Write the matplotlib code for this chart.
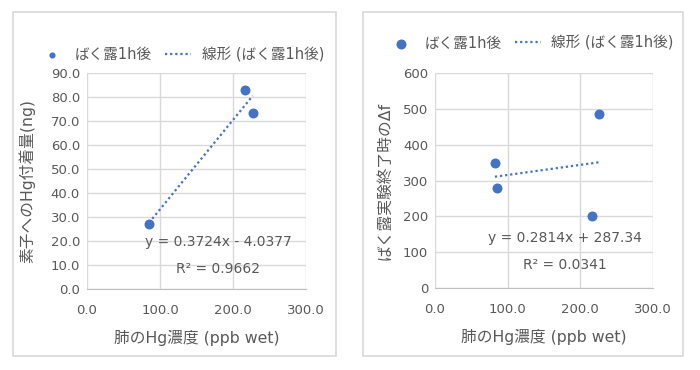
import numpy as np
import matplotlib
matplotlib.use('Agg')
import matplotlib.pyplot as plt
from matplotlib.patches import Rectangle
from matplotlib.ticker import FormatStrFormatter

plt.rcParams['font.family'] = ['DejaVu Sans', 'Noto Sans CJK JP']

# left chart: Hg adhesion on element vs lung Hg concentration
left_x = [85.0, 216.0, 227.0]
left_y = [27.0, 83.0, 73.5]
left_fit = (0.3724, -4.0377)
left_r2 = 0.9662

# right chart: delta f at end of exposure vs lung Hg concentration
right_x = [82.5, 85.0, 216.0, 226.0]
right_y = [349.0, 280.0, 201.0, 486.0]
right_fit = (0.2814, 287.34)
right_r2 = 0.0341

series_name = 'ばく露1h後'
trend_name = '線形 (ばく露1h後)'
xlabel = '肺のHg濃度 (ppb wet)'
left_ylabel = '素子へのHg付着量(ng)'
right_ylabel = 'ばく露実験終了時のΔf'

blue = '#4472C4'
grey_txt = '#595959'
grid_col = '#d9d9d9'

W, H = 700, 370
fig = plt.figure(figsize=(W / 100, H / 100), dpi=100)


def px(l, t, r, b):
    return [l / W, 1 - b / H, (r - l) / W, (b - t) / H]


# chart frames
for l, r in [(13, 336), (363, 683)]:
    fig.patches.append(Rectangle((l / W, 1 - 356 / H), (r - l) / W, (356 - 12) / H,
                                 transform=fig.transFigure, fill=False,
                                 edgecolor=grid_col, linewidth=1.2))


def draw(ax, xs, ys, fit, r2, ymax, ystep, yfmt, ylabel, eq, eq_pos, legend_pos, msize):
    ax.scatter(xs, ys, s=38, color=blue, zorder=3, label=series_name)
    xx = np.array([min(xs), max(xs)])
    ax.plot(xx, fit[0] * xx + fit[1], linestyle=(0, (1, 1.3)), color=blue,
            linewidth=1.6, zorder=2, label=trend_name)
    ax.set_xlim(0, 300)
    ax.set_ylim(0, ymax)
    ax.set_xticks(np.arange(0, 301, 100))
    ax.set_yticks(np.arange(0, ymax + 1, ystep))
    ax.xaxis.set_major_formatter(FormatStrFormatter('%.1f'))
    ax.yaxis.set_major_formatter(FormatStrFormatter(yfmt))
    ax.grid(True, color=grid_col, linewidth=1)
    ax.set_axisbelow(True)
    for s in ['top', 'right', 'left']:
        ax.spines[s].set_visible(False)
    ax.spines['bottom'].set_color('#bfbfbf')
    ax.tick_params(length=0, labelsize=9.5, labelcolor=grey_txt, pad=5)
    ax.tick_params(axis='x', pad=11)
    ax.set_xlabel(xlabel, fontsize=11.3, color=grey_txt, labelpad=9)
    ax.set_ylabel(ylabel, fontsize=11.3, color=grey_txt)
    ax.text(eq_pos[0], eq_pos[1], eq, fontsize=10, color=grey_txt,
            ha='center', va='center', transform=ax.transAxes)
    ax.text(eq_pos[0], eq_pos[1] - 0.125, 'R² = %.4f' % r2, fontsize=10,
            color=grey_txt, ha='center', va='center', transform=ax.transAxes)
    leg = ax.legend(loc='center', bbox_to_anchor=legend_pos, ncol=2,
                    frameon=False, fontsize=10.5, handlelength=1.8,
                    columnspacing=0.9, handletextpad=0.7, markerscale=msize)
    for t in leg.get_texts():
        t.set_color(grey_txt)


ax1 = fig.add_axes(px(87, 73, 306, 289))
draw(ax1, left_x, left_y, left_fit, left_r2, 90, 10, '%.1f', left_ylabel,
     'y = %.4fx - %.4f' % (left_fit[0], -left_fit[1]), (0.6, 0.218),
     (0.43, 1.085), 0.55)
ax1.yaxis.set_label_coords(-0.235, 0.5)

ax2 = fig.add_axes(px(435, 73, 653, 288))
draw(ax2, right_x, right_y, right_fit, right_r2, 600, 100, '%d', right_ylabel,
     'y = %.4fx + %.2f' % right_fit, (0.596, 0.233), (0.44, 1.14), 1.0)
ax2.yaxis.set_label_coords(-0.195, 0.5)

fig.savefig('out.png', dpi=100, facecolor='white')
